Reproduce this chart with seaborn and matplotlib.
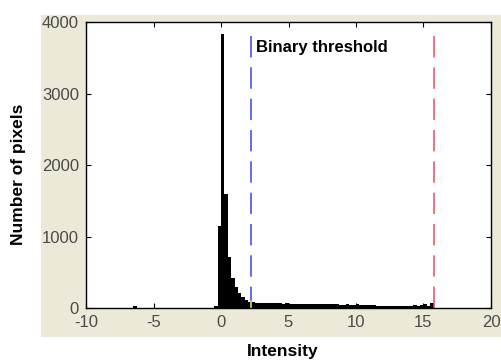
import numpy as np
import pandas as pd
import matplotlib
matplotlib.use('Agg')
import matplotlib.pyplot as plt
from matplotlib.patches import Rectangle
import seaborn as sns

# histogram data: bin centre (intensity) and pixel count, bins of 0.25
intensity = [-6.375, -0.375, -0.125, 0.125, 0.375, 0.625, 0.875, 1.125, 1.375,
             1.625, 1.875, 2.125, 2.375, 2.625, 2.875,
             3.125, 3.375, 3.625, 3.875, 4.125, 4.375, 4.625, 4.875,
             5.125, 5.375, 5.625, 5.875, 6.125, 6.375, 6.625, 6.875,
             7.125, 7.375, 7.625, 7.875, 8.125, 8.375, 8.625, 8.875,
             9.125, 9.375, 9.625, 9.875, 10.125, 10.375, 10.625, 10.875,
             11.125, 11.375, 11.625, 11.875, 12.125, 12.375, 12.625, 12.875,
             13.125, 13.375, 13.625, 13.875, 14.125, 14.375, 14.625, 14.875,
             15.125, 15.375, 15.625]
pixels = [25, 30, 1150, 3830, 1600, 710, 420, 300, 210,
          150, 110, 85, 80, 75, 70,
          70, 68, 66, 70, 64, 66, 62, 64,
          60, 62, 58, 60, 58, 62, 56, 58,
          60, 55, 62, 54, 56, 50, 52, 48,
          46, 50, 44, 48, 52, 42, 40, 38,
          36, 38, 34, 32, 30, 32, 30, 28,
          28, 26, 28, 26, 24, 40, 22, 45,
          60, 30, 70]

binary_threshold = 2.2
upper_threshold = 15.75

x_ticks = [-10, -5, 0, 5, 10, 15, 20]
y_ticks = [0, 1000, 2000, 3000, 4000]

df = pd.DataFrame({'Intensity': intensity, 'Pixels': pixels})

sns.set_style('ticks')
plt.rcParams['font.family'] = ['Liberation Sans', 'DejaVu Sans']
plt.rcParams['axes.unicode_minus'] = False

fig = plt.figure(figsize=(5.01, 3.62), dpi=100, facecolor='white')
# beige panel behind the axes (old windows figure look)
fig.patches.append(Rectangle((41 / 501, 25 / 362), 460 / 501, 322 / 362,
                             transform=fig.transFigure, facecolor='#ECE9D8',
                             edgecolor='none', zorder=-5))
ax = fig.add_axes([0.1717, 0.149, 0.8083, 0.790])
ax.set_facecolor('white')

sns.histplot(data=df, x='Intensity', weights='Pixels', binwidth=0.25,
             binrange=(-10, 20), color='black', edgecolor='black',
             linewidth=0, alpha=1, ax=ax)

ax.axvline(binary_threshold, ymin=0, ymax=3850 / 4000, color='#3b44e8',
           lw=1.1, ls=(0, (14, 6.5)))
ax.axvline(upper_threshold, ymin=0, ymax=3850 / 4000, color='#ee4a5a',
           lw=1.1, ls=(0, (14, 6.5)))
ax.plot([binary_threshold, binary_threshold], [0, 100], color='#e8e030', lw=1.1)

ax.text(2.6, 3640, 'Binary threshold', fontsize=12, fontweight='bold',
        va='center', ha='left', color='black')

ax.set_xlim(-10, 20)
ax.set_ylim(0, 4000)
ax.set_xticks(x_ticks)
ax.set_yticks(y_ticks)
ax.set_xlabel('')
ax.set_ylabel('')
ax.tick_params(direction='in', top=True, right=True, length=3.5, width=0.8,
               color='black', labelsize=12, labelcolor='#4a4a4a', pad=5)
for s in ax.spines.values():
    s.set_color('black')
    s.set_linewidth(1)

fig.text(0.036, 0.518, 'Number of pixels', rotation=90, fontsize=12.5,
         fontweight='bold', ha='center', va='center', color='black')
fig.text(0.565, 0.028, 'Intensity', fontsize=12.5, fontweight='bold',
         ha='center', va='center', color='black')

fig.savefig('out.png', dpi=100)
